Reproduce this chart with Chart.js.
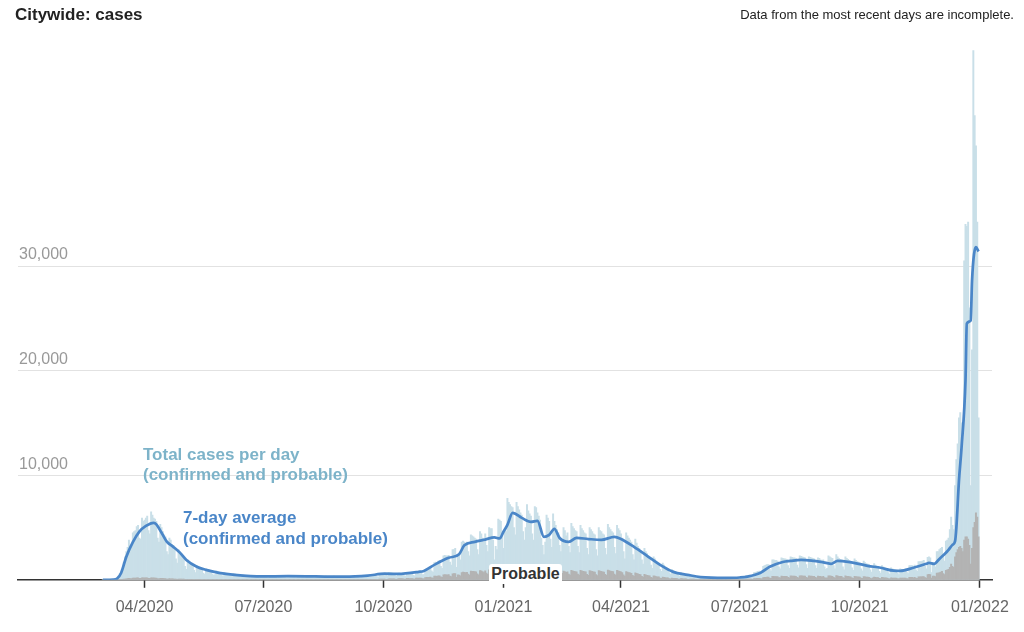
<!DOCTYPE html>
<html>
<head>
<meta charset="utf-8">
<title>Citywide: cases</title>
<script src="https://cdn.jsdelivr.net/npm/chart.js@4/dist/chart.umd.min.js"></script>
<style>
  html, body { margin: 0; padding: 0; background: #fff; }
  body { width: 1024px; height: 632px; position: relative; overflow: hidden;
         font-family: "Liberation Sans", Arial, Helvetica, sans-serif; }
  #chart { position: absolute; left: 0; top: 0; }
  .txt { position: absolute; white-space: nowrap; }
  #title { left: 15px; top: 5px; font-size: 17px; line-height: 20px; font-weight: bold; color: #222; }
  #note { right: 10px; top: 7px; font-size: 13px; line-height: 16px; color: #222; }
  #lblTotal { left: 143px; top: 445px; font-size: 17px; line-height: 20px; font-weight: bold; color: #7db3c9; }
  #lblAvg { left: 183px; top: 507px; font-size: 17px; line-height: 21px; font-weight: bold; color: #4a86c8; }
  #lblProb { left: 489px; top: 564px; width: 73px; height: 20px; line-height: 20px; text-align: center;
             background: #fff; font-size: 16px; font-weight: bold; color: #333; border-radius: 3px; }
</style>
</head>
<body>
<canvas id="chart" width="1024" height="632"></canvas>
<div class="txt" id="title">Citywide: cases</div>
<div class="txt" id="note">Data from the most recent days are incomplete.</div>
<div class="txt" id="lblTotal">Total cases per day<br>(confirmed and probable)</div>
<div class="txt" id="lblAvg">7-day average<br>(confirmed and probable)</div>
<div class="txt" id="lblProb">Probable</div>
<script>
// first day of the daily series
const firstDay = '2020-02-29';

// total cases per day (confirmed and probable), one line per month
const totalCases = [
  0, 1,2,2,5,4,9,10,25,60,100,200,350,600,700,900,1700,2200,2700,3100,3800,3000,3100,4500,4600,4700,5100,5200,4000,3900,5900,5600,
  5700,5900,6100,4700,4400,6500,6200,5900,5800,5600,4000,3600,5300,5000,4600,4300,4100,2700,2400,4000,3800,3400,3300,3100,2000,1600,2900,2700,2400,2200,
  2000,1300,1000,1900,1700,1500,1450,1350,900,700,1350,1250,1150,1100,1000,650,550,1050,1000,950,900,850,550,450,500,850,800,750,700,450,350,
  700,650,620,580,560,380,300,600,560,520,500,480,320,260,480,450,420,400,390,260,220,420,400,380,370,360,240,200,400,380,
  370,360,280,180,200,420,400,380,370,350,240,200,410,390,370,360,340,230,200,420,400,380,370,350,240,200,400,380,360,350,330,
  220,180,380,300,340,340,330,220,180,370,360,340,330,320,210,180,360,350,330,320,310,210,170,350,340,320,310,300,200,170,340,
  340,330,320,300,200,170,200,380,370,360,340,230,200,420,410,400,390,380,260,220,480,470,460,450,430,300,260,580,600,620,
  620,600,420,380,720,700,680,640,600,400,340,560,650,620,600,580,400,350,680,660,640,630,620,430,380,800,780,760,740,720,500,
  500,1000,1050,1050,1100,1150,850,750,1650,1700,1500,1800,1850,1300,1100,2300,2350,2300,2300,2350,1700,1400,2900,2900,3000,1200,2400,2300,1900,3600,
  3700,3600,3500,3600,2700,2300,4300,4200,4100,4000,3900,2900,2400,4600,4400,4000,3600,4400,3300,2700,5000,4900,4900,3800,1900,3200,2900,5800,5700,5600,4600,
  3000,4700,4600,7800,7400,7200,7000,6900,5000,4300,7400,7000,6700,6400,6200,4600,3800,5000,7200,6600,6300,6100,4400,3800,7000,6900,6400,6100,5700,4000,3300,
  2400,3600,6200,5900,5600,3900,3100,6300,5600,5200,4800,4500,3300,2700,3700,5000,4700,4200,4500,3200,2600,5400,5100,4900,4700,4600,3200,2600,
  5200,4900,4700,4500,4400,3000,2400,5000,4800,4600,4400,4300,2900,2300,5000,4700,4600,4400,4300,3000,2400,5300,5000,4800,4600,4500,3100,2500,5200,4900,4700,
  4400,4000,2700,2000,4500,4200,4000,3800,3600,2400,1900,3900,3500,3200,3000,2800,1900,1500,3000,2700,2500,2300,2100,1400,1100,2200,2000,1800,1700,1600,
  1000,800,1600,1400,1250,1150,1050,700,550,1000,900,820,750,700,450,360,680,620,560,520,480,320,250,440,400,370,340,310,200,160,160,
  330,300,280,260,170,140,260,250,240,230,220,150,120,230,220,210,200,190,130,110,210,210,200,200,200,140,120,230,240,250,
  260,250,170,130,200,400,420,440,460,330,280,700,720,760,800,830,600,500,1300,1350,1400,1450,1450,1000,850,1900,1900,1850,1850,1800,1250,
  1050,2100,2050,2000,2000,1950,1350,1100,2200,2150,2100,2100,2050,1400,1150,2300,2250,2200,2150,2100,1450,1100,2200,2150,2100,2050,2000,1350,1100,2100,2050,
  1900,1500,1900,1250,1000,1100,2300,2200,2100,2050,1350,1050,2400,2200,2050,1950,1900,1250,950,2200,2050,1950,1850,1750,1150,900,2000,1850,1750,1700,
  1600,1050,850,1800,1650,1550,1500,1450,950,750,1100,1550,1400,1300,1250,800,650,1350,1250,1150,1100,1050,700,550,1150,1050,1000,950,950,620,500,
  1050,1000,980,1000,1050,720,600,1350,1350,1350,1100,1400,950,800,1750,1750,1750,1800,1850,1300,1050,2150,2200,2100,700,1500,1500,1250,2700,2700,
  2900,3000,3100,2200,1800,3700,3800,4000,4800,6000,5200,4800,9000,11500,13000,15500,16000,15000,13500,30500,34000,33800,34200,26000,9000,22000,50600,44400,41500,34200,15500
];

// probable cases per day, same days as totalCases
const probableCases = [
  0, 0,0,0,0,0,0,0,0,0,0,5,10,20,30,40,60,80,100,120,140,120,110,160,170,170,180,180,140,130,190,180,
  190,190,190,150,140,200,190,180,170,160,120,100,150,140,130,120,110,80,70,110,100,90,90,80,60,50,80,70,60,60,
  60,40,30,55,50,45,45,40,30,25,40,35,35,30,30,20,18,30,30,28,26,25,18,15,15,25,24,22,20,14,12,
  20,20,18,18,17,12,10,18,17,16,15,15,10,8,15,14,13,13,12,8,7,13,13,12,12,12,8,7,13,13,
  15,15,12,8,8,18,17,16,16,15,10,9,18,17,16,16,15,10,9,18,17,16,16,15,10,9,18,17,16,16,15,
  10,9,18,17,17,17,16,11,9,19,18,18,17,17,11,9,19,18,18,17,17,11,9,20,19,19,18,18,12,10,22,
  22,21,21,20,14,12,13,30,30,30,28,20,18,40,40,40,38,36,26,22,50,50,48,48,46,32,28,70,75,80,
  80,80,55,50,100,100,100,95,90,60,50,90,110,105,105,100,70,60,130,130,125,125,120,85,75,170,170,165,160,160,110,
  100,220,230,230,240,250,180,160,350,360,330,380,390,280,240,480,490,480,480,490,360,300,580,590,600,240,480,460,380,700,
  740,720,700,720,540,460,840,820,800,780,760,570,470,880,860,780,700,860,640,530,950,940,940,730,370,620,560,1100,1080,1060,880,
  580,900,880,1300,1250,1200,1180,1160,840,720,1240,1180,1120,1080,1040,770,640,840,1200,1110,1060,1020,740,640,1180,1160,1080,1020,960,670,560,
  400,600,1040,990,940,660,520,1060,940,880,810,760,560,450,620,840,790,710,760,540,440,910,860,820,790,770,540,440,
  900,850,810,780,760,520,420,880,840,800,770,750,510,400,880,830,800,770,750,520,420,930,880,840,800,790,540,440,910,860,820,
  770,700,470,350,780,730,700,660,630,420,330,670,610,560,520,490,330,260,520,470,430,400,370,240,190,380,350,310,290,280,
  170,140,270,240,210,200,180,120,95,170,150,140,130,120,80,62,115,105,95,88,82,55,43,75,68,63,58,53,35,28,28,
  55,50,47,44,29,24,44,42,40,39,37,25,20,39,37,35,34,32,22,19,36,36,34,34,34,24,20,39,41,43,
  45,43,29,22,34,70,72,76,80,57,48,120,125,130,140,145,105,85,220,230,240,250,250,170,145,320,320,310,310,300,210,
  180,350,340,340,340,330,230,190,370,360,350,350,340,240,195,380,375,370,360,350,240,185,370,360,350,340,330,225,185,350,340,
  320,250,320,210,170,185,380,370,350,340,225,175,400,370,340,330,320,210,160,370,340,330,310,290,195,150,330,310,290,280,
  270,175,140,300,275,260,250,240,160,125,185,260,235,215,210,135,110,225,210,190,185,175,115,92,190,175,165,160,160,105,85,
  175,165,165,165,175,120,100,225,225,225,185,235,160,135,290,290,290,300,310,215,175,500,520,500,170,360,360,300,650,650,
  700,750,800,600,500,900,950,1000,1200,1500,1300,1200,2200,2600,2900,3100,3200,3000,2700,3800,4100,4100,3900,3300,1500,3000,5000,5500,6400,6000,4100
];

// 7-day average (confirmed and probable)
const avgDates = [
  '2020-02-29','2020-03-08','2020-03-11','2020-03-14','2020-03-18','2020-03-23','2020-03-28','2020-04-02','2020-04-08','2020-04-10',
  '2020-04-14','2020-04-18','2020-04-23','2020-04-28','2020-05-03','2020-05-11','2020-05-18','2020-05-28','2020-06-09','2020-06-30',
  '2020-07-20','2020-08-10','2020-09-01','2020-09-19','2020-10-02','2020-10-12','2020-10-28','2020-11-01','2020-11-10','2020-11-20',
  '2020-11-28','2020-12-02','2020-12-10','2020-12-18','2020-12-25','2020-12-29','2021-01-01','2021-01-04','2021-01-08','2021-01-15',
  '2021-01-22','2021-01-27','2021-02-01','2021-02-05','2021-02-09','2021-02-13','2021-02-20','2021-02-26','2021-03-07','2021-03-17',
  '2021-03-27','2021-04-01','2021-04-11','2021-04-22','2021-05-01','2021-05-11','2021-05-22','2021-06-01','2021-06-20','2021-07-01',
  '2021-07-07','2021-07-17','2021-07-24','2021-08-03','2021-08-09','2021-08-17','2021-08-27','2021-09-01','2021-09-09','2021-09-14',
  '2021-09-22','2021-09-30','2021-10-07','2021-10-17','2021-10-27','2021-11-01','2021-11-11','2021-11-21','2021-11-23','2021-11-27',
  '2021-12-01','2021-12-06','2021-12-08','2021-12-11','2021-12-13','2021-12-14','2021-12-16','2021-12-18','2021-12-21','2021-12-22',
  '2021-12-25','2021-12-26','2021-12-29','2021-12-31'
];
const avgValues = [
  0,20,120,650,2200,3600,4600,5150,5450,5300,
  4500,3650,3150,2600,1900,1250,950,670,480,320,
  340,320,300,400,580,560,760,850,1500,2100,
  2450,3300,3630,3850,4050,3950,4600,5250,6400,5920,
  5540,5640,4100,4300,4870,4000,3630,4010,3900,3820,
  4100,3900,3150,2200,1430,760,480,260,190,220,
  300,670,1240,1700,1800,1900,1800,1720,1530,1800,
  1720,1530,1340,1150,870,850,1150,1530,1620,1530,
  2000,2580,2870,3340,3700,5000,9500,12700,19100,24500,
  24800,28600,31800,31400
];

const tickDates = ['2020-04-01','2020-07-01','2020-10-01','2021-01-01','2021-04-01','2021-07-01','2021-10-01','2022-01-01'];
const tickLabels = ['04/2020','07/2020','10/2020','01/2021','04/2021','07/2021','10/2021','01/2022'];
const yTicks = [10000, 20000, 30000];

// days counted from 1 April 2020
function dayIndex(s) {
  const p = s.split('-').map(Number);
  return (Date.UTC(p[0], p[1] - 1, p[2]) - Date.UTC(2020, 3, 1)) / 86400000;
}

const start = dayIndex(firstDay);
const totalPoints = totalCases.map((v, i) => ({ x: start + i, y: v }));
const probablePoints = probableCases.map((v, i) => ({ x: start + i, y: v }));
const avgPoints = avgDates.map((d, i) => ({ x: dayIndex(d), y: avgValues[i] }));

Chart.defaults.font.family = '"Liberation Sans", Arial, Helvetica, sans-serif';

new Chart(document.getElementById('chart').getContext('2d'), {
  type: 'bar',
  data: {
    datasets: [{
      type: 'line',
      data: avgPoints,
      borderColor: '#4a86c8',
      borderWidth: 2.75,
      pointRadius: 0,
      cubicInterpolationMode: 'monotone',
      borderJoinStyle: 'round',
      order: 0
    }, {
      type: 'bar',
      data: probablePoints,
      backgroundColor: '#b3b3b3',
      grouped: false,
      barPercentage: 1,
      categoryPercentage: 1,
      borderWidth: 0,
      order: 1
    }, {
      type: 'bar',
      data: totalPoints,
      backgroundColor: '#c9dfe8',
      grouped: false,
      barPercentage: 1,
      categoryPercentage: 1,
      borderWidth: 0,
      order: 2
    }]
  },
  options: {
    responsive: false,
    animation: false,
    layout: { padding: { left: 16, right: 32, top: 36, bottom: 5 } },
    plugins: { legend: { display: false }, tooltip: { enabled: false } },
    scales: {
      x: {
        type: 'linear',
        min: -97,
        max: 649.3,
        offset: false,
        afterBuildTicks: function (scale) {
          scale.ticks = tickDates.map(d => ({ value: dayIndex(d) }));
        },
        ticks: {
          autoSkip: false,
          maxRotation: 0,
          color: '#666',
          padding: 10,
          font: { size: 16 },
          callback: function (v, i) { return tickLabels[i]; }
        },
        grid: { offset: false, drawOnChartArea: false, drawTicks: true, tickLength: 8, tickColor: '#333', tickWidth: 1.5 },
        border: { color: '#333', width: 1.5 }
      },
      y: {
        min: 0,
        max: 52000,
        afterBuildTicks: function (scale) {
          scale.ticks = yTicks.map(v => ({ value: v }));
        },
        ticks: { mirror: true, padding: 1, labelOffset: -11, color: '#999', font: { size: 16 } },
        grid: { color: '#e2e2e2', drawTicks: false },
        border: { display: false }
      }
    }
  }
});
</script>
</body>
</html>
